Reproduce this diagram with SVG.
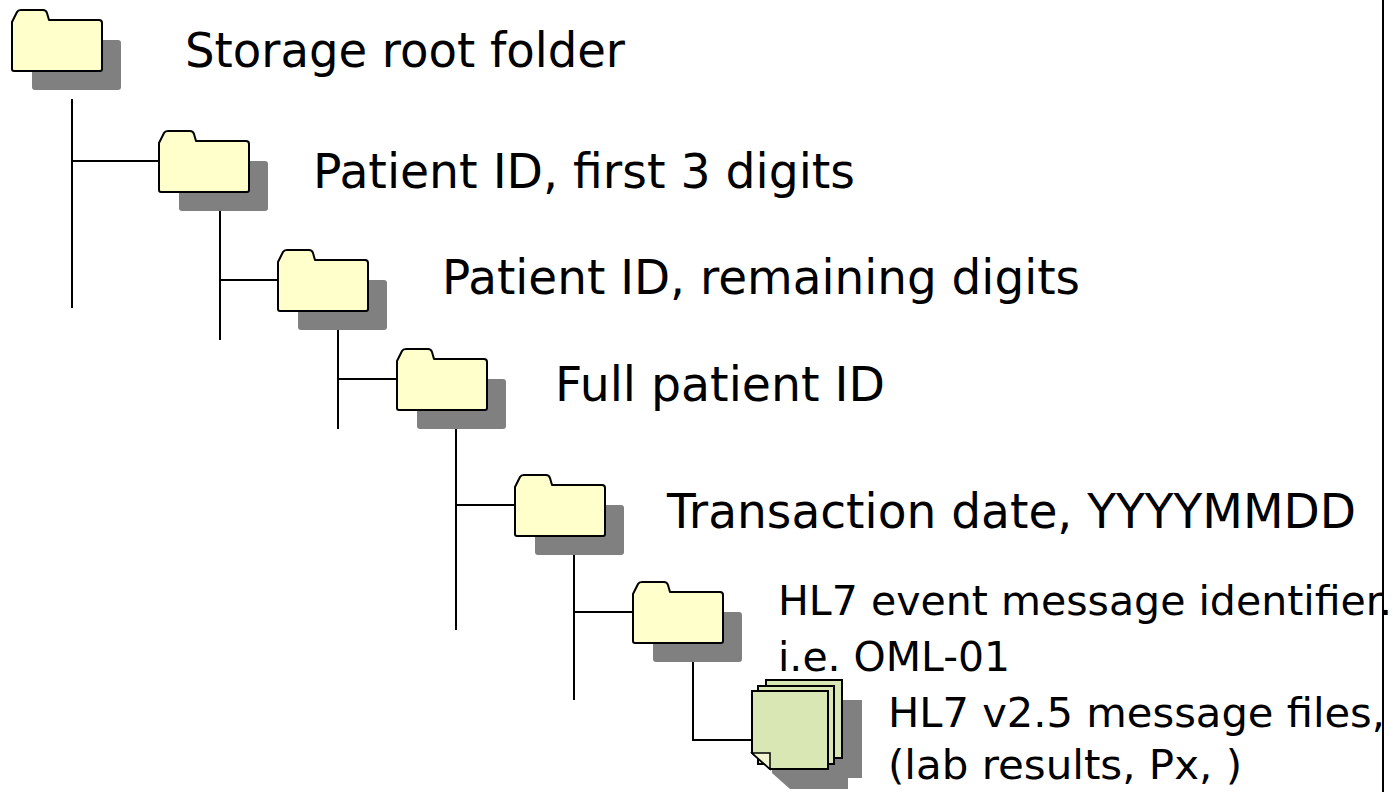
<svg xmlns="http://www.w3.org/2000/svg" xmlns:xlink="http://www.w3.org/1999/xlink" width="1400" height="792" viewBox="0 0 1400 792">
<style>
  .lbl { font-family: "DejaVu Sans", "Liberation Sans", sans-serif; font-size: 48px; fill: #000; }
  .sm { font-size: 41px; }
  .conn { stroke: #000; stroke-width: 2; fill: none; }
  .fold { fill: #FFFFCC; stroke: #000; stroke-width: 2; stroke-linejoin: round; }
  .shd { fill: #808080; }
  .sheet { fill: #D9E7B5; stroke: #000; stroke-width: 2; stroke-linejoin: miter; }
  .flap { fill: #F1F5D2; stroke: #000; stroke-width: 1.5; }
</style>
<defs>
  <g id="folder">
    <rect class="shd" x="20" y="30" width="89" height="50" rx="3"/>
    <path class="fold" d="M0,59 V12 L5,2 Q6,0 9,0 H31 Q34,0 35,3 L37,10 H87 Q90,10 90,13 V59 Q90,61 88,61 H2 Q0,61 0,59 Z"/>
  </g>
</defs>
<rect width="1400" height="792" fill="#fff"/>

<g id="connectors">
  <line class="conn" x1="72" y1="99" x2="72" y2="308"/>
  <line class="conn" x1="72" y1="161" x2="159" y2="161"/>
  <line class="conn" x1="220" y1="211" x2="220" y2="340"/>
  <line class="conn" x1="220" y1="280" x2="278" y2="280"/>
  <line class="conn" x1="338" y1="329" x2="338" y2="429"/>
  <line class="conn" x1="338" y1="379" x2="397" y2="379"/>
  <line class="conn" x1="456" y1="429" x2="456" y2="630"/>
  <line class="conn" x1="456" y1="505" x2="515" y2="505"/>
  <line class="conn" x1="574" y1="555" x2="574" y2="700"/>
  <line class="conn" x1="574" y1="612" x2="633" y2="612"/>
  <polyline class="conn" points="693,662 693,740 752,740"/>
</g>

<line id="edge" x1="1383" y1="0" x2="1383" y2="792" stroke="#000" stroke-width="2"/>

<g id="n1">
  <use xlink:href="#folder" href="#folder" x="12" y="10"/>
  <text class="lbl" x="185" y="67" textLength="440" lengthAdjust="spacingAndGlyphs">Storage root folder</text>
</g>
<g id="n2">
  <use xlink:href="#folder" href="#folder" x="159" y="131"/>
  <text class="lbl" x="313" y="188" textLength="542" lengthAdjust="spacingAndGlyphs">Patient ID, first 3 digits</text>
</g>
<g id="n3">
  <use xlink:href="#folder" href="#folder" x="278" y="250"/>
  <text class="lbl" x="442" y="294" textLength="638" lengthAdjust="spacingAndGlyphs">Patient ID, remaining digits</text>
</g>
<g id="n4">
  <use xlink:href="#folder" href="#folder" x="397" y="349"/>
  <text class="lbl" x="555" y="401" textLength="330" lengthAdjust="spacingAndGlyphs">Full patient ID</text>
</g>
<g id="n5">
  <use xlink:href="#folder" href="#folder" x="515" y="475"/>
  <text class="lbl" x="667" y="528" textLength="689" lengthAdjust="spacingAndGlyphs">Transaction date, YYYYMMDD</text>
</g>
<g id="n6">
  <use xlink:href="#folder" href="#folder" x="633" y="582"/>
  <text class="lbl sm" x="778" y="615" textLength="614" lengthAdjust="spacingAndGlyphs">HL7 event message identifier.</text>
  <text class="lbl sm" x="778" y="671" textLength="232" lengthAdjust="spacingAndGlyphs">i.e. OML-01</text>
</g>
<g id="n7">
  <rect class="shd" x="786" y="700" width="76" height="78"/>
  <path class="shd" d="M772,711 H848 V789 H790 L772,773 Z"/>
  <rect class="sheet" x="766" y="680" width="76" height="78"/>
  <rect class="sheet" x="758" y="686" width="76" height="78"/>
  <path class="sheet" d="M752,691 H828 V769 H770 L752,753 Z"/>
  <path class="flap" d="M752,753 H770 V769 Z"/>
  <text class="lbl sm" x="888" y="727" textLength="497" lengthAdjust="spacingAndGlyphs">HL7 v2.5 message files,</text>
  <text class="lbl sm" x="888" y="779" textLength="354" lengthAdjust="spacingAndGlyphs">(lab results, Px, )</text>
</g>
</svg>
